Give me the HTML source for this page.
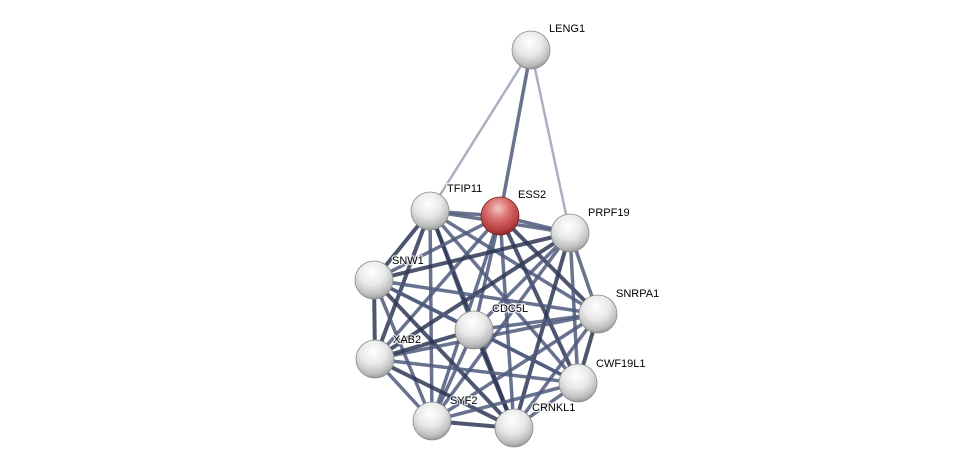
<!DOCTYPE html>
<html><head><meta charset="utf-8"><style>
html,body{margin:0;padding:0;background:#fff;width:976px;height:474px;overflow:hidden}
svg text{font-family:"Liberation Sans",sans-serif;font-size:11px;fill:#000;stroke:#fff;stroke-width:2.5px;stroke-opacity:0.8;paint-order:stroke}
</style></head><body>
<svg id="s" width="976" height="474" xmlns="http://www.w3.org/2000/svg">
<defs>
<radialGradient id="g" cx="45%" cy="30%" r="70%">
<stop offset="0" stop-color="#ffffff"/><stop offset="0.5" stop-color="#e8e8e8"/><stop offset="0.85" stop-color="#bdbdbd"/><stop offset="1" stop-color="#9a9a9a"/></radialGradient>
<radialGradient id="r" cx="45%" cy="30%" r="70%">
<stop offset="0" stop-color="#f4c4c4"/><stop offset="0.45" stop-color="#d86a6a"/><stop offset="0.85" stop-color="#b23c3c"/><stop offset="1" stop-color="#8a2a2a"/></radialGradient>
</defs>
<g id="edges">
<line x1="531" y1="50" x2="430" y2="211" stroke="#aab0c0" stroke-width="2.5"/>
<line x1="531" y1="50" x2="500" y2="216" stroke="#6a7390" stroke-width="3.5"/>
<line x1="531" y1="50" x2="570" y2="233" stroke="#aab0c0" stroke-width="2.5"/>
</g>
<g id="nodes"></g>
<text x="549" y="32">LENG1</text>
<text x="447" y="192">TFIP11</text>
<text x="518" y="198">ESS2</text>
<text x="588" y="216">PRPF19</text>
<text x="392" y="264">SNW1</text>
<text x="616" y="297">SNRPA1</text>
<text x="492" y="312">CDC5L</text>
<text x="393" y="343">XAB2</text>
<text x="596" y="367">CWF19L1</text>
<text x="450" y="404">SYF2</text>
<text x="532" y="411">CRNKL1</text>
</svg>
<script>
var N=[[430,211],[500,216],[570,233],[374,280],[598,314],[474,330],[375,359],[578,383],[432,421],[514,428]];
var e=document.getElementById('edges'),ns="http://www.w3.org/2000/svg";
var k=0;
for(var i=0;i<N.length;i++)for(var j=i+1;j<N.length;j++){
 var l=document.createElementNS(ns,'line');
 l.setAttribute('x1',N[i][0]);l.setAttribute('y1',N[i][1]);
 l.setAttribute('x2',N[j][0]);l.setAttribute('y2',N[j][1]);
 k++;
 var dark=(k%3==0);
 l.setAttribute('stroke',dark?'#2e3756':'#4f5a7c');
 l.setAttribute('stroke-width',dark?4:3.5);
 l.setAttribute('stroke-opacity',0.85);
 e.appendChild(l);
}
var g=document.getElementById('nodes');
var all=[[531,50,'g']];
N.forEach(function(p,i){all.push([p[0],p[1],i==1?'r':'g'])});
all.forEach(function(p){
 var c=document.createElementNS(ns,'circle');
 c.setAttribute('cx',p[0]);c.setAttribute('cy',p[1]);c.setAttribute('r',19);
 c.setAttribute('fill','url(#'+p[2]+')');
 c.setAttribute('stroke',p[2]=='r'?'#7a2020':'#8a8a8a');c.setAttribute('stroke-width',0.8);
 g.appendChild(c);
});
</script>
</body></html>
